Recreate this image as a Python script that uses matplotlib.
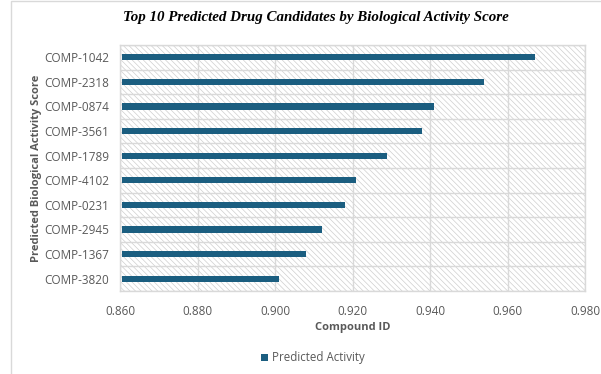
import matplotlib
matplotlib.use("Agg")
import matplotlib.pyplot as plt
from matplotlib.patches import Rectangle
from matplotlib.ticker import FixedLocator, FormatStrFormatter
import numpy as np

compounds = ["COMP-1042", "COMP-2318", "COMP-0874", "COMP-3561", "COMP-1789",
             "COMP-4102", "COMP-0231", "COMP-2945", "COMP-1367", "COMP-3820"]
activity = [0.967, 0.954, 0.941, 0.938, 0.929, 0.921, 0.918, 0.912, 0.908, 0.901]
xticks = [0.860, 0.880, 0.900, 0.920, 0.940, 0.960, 0.980]

plt.rcParams['hatch.linewidth'] = 0.5
plt.rcParams['hatch.color'] = '#cfcfcf'
plt.rcParams['font.family'] = ['Open Sans', 'DejaVu Sans']

fig = plt.figure(figsize=(6.01, 3.74), dpi=100)
ax = fig.add_axes([120/601, 1 - 291/374, 465/601, 246/374])

# chart outer border
fig.patches.append(Rectangle((11/601, -0.01), 1.0, 1.0 - 1/374 + 0.01, transform=fig.transFigure,
                             fill=False, edgecolor='#d9d9d9', linewidth=1.0))

y = np.arange(len(compounds))
ax.set_xlim(0.860, 0.980)
ax.set_ylim(len(compounds) - 0.5, -0.5)

bg = Rectangle((0, 0), 1, 1, transform=ax.transAxes, facecolor='white',
               edgecolor='#cfcfcf', hatch='\\\\\\\\\\\\', linewidth=0, zorder=0)
ax.add_patch(bg)

ax.barh(y, [a - 0.8605 for a in activity], left=0.8605, height=0.26, color='#1b5e80',
        zorder=3, label='Predicted Activity')

ax.set_xticks(xticks)
ax.xaxis.set_major_formatter(FormatStrFormatter('%.3f'))
ax.set_yticks(y)
ax.set_yticklabels(compounds)
ax.yaxis.set_minor_locator(FixedLocator(np.arange(-0.5, len(compounds), 1.0)))
ax.grid(axis='x', which='major', color='#d9d9d9', linewidth=1.0, zorder=1)
ax.grid(axis='y', which='minor', color='#d9d9d9', linewidth=1.0, zorder=1)
ax.set_axisbelow(True)
ax.tick_params(axis='both', which='both', length=0, colors='#595959', labelsize=8.5)
ax.tick_params(axis='x', pad=10)
ax.tick_params(axis='y', pad=8)
for s in ax.spines.values():
    s.set_color('#d9d9d9')
    s.set_linewidth(1.0)

ax.set_xlabel('Compound ID', fontsize=8, fontweight='bold', color='#595959', labelpad=3)
ax.set_ylabel('Predicted Biological Activity Score', fontsize=8, fontweight='bold',
              color='#595959', labelpad=1)

fig.text(316/601, 1 - 18/374, 'Top 10 Predicted Drug Candidates by Biological Activity Score',
         ha='center', va='center', fontsize=10.8, fontweight='bold', fontstyle='italic',
         family='Liberation Serif', color='black')

leg = fig.legend(loc='center', bbox_to_anchor=(313/601, 1 - 358/374), frameon=False,
                 fontsize=8.3, handlelength=0.6, handleheight=0.6, handletextpad=0.3)
for t in leg.get_texts():
    t.set_color('#595959')

fig.savefig('out.png', dpi=100)
